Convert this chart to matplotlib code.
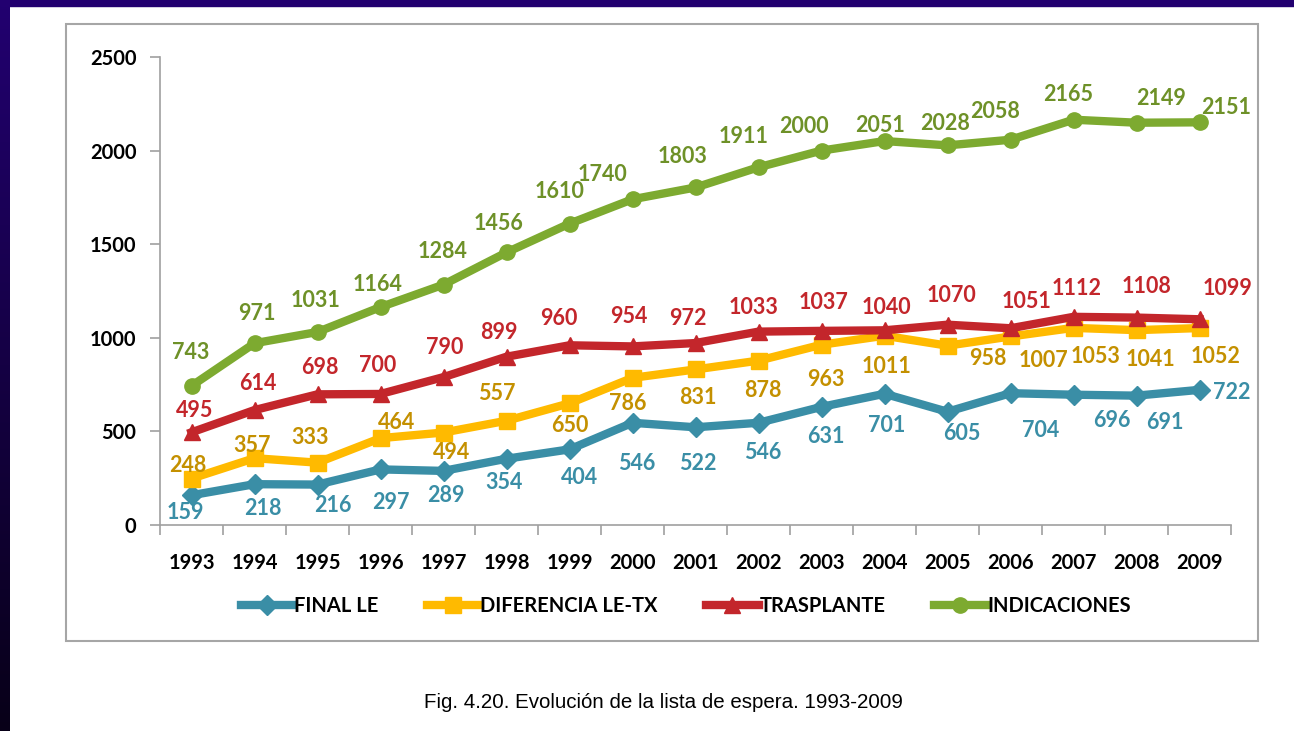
import numpy as np
import matplotlib
matplotlib.use("Agg")
from matplotlib import pyplot as plt
from matplotlib.patches import Rectangle

# Data
years = [str(y) for y in range(1993, 2010)]
final_le = [159, 218, 216, 297, 289, 354, 404, 546, 522, 546, 631, 701, 605, 704, 696, 691, 722]
diferencia = [248, 357, 333, 464, 494, 557, 650, 786, 831, 878, 963, 1011, 958, 1007, 1053, 1041, 1052]
trasplante = [495, 614, 698, 700, 790, 899, 960, 954, 972, 1033, 1037, 1040, 1070, 1051, 1112, 1108, 1099]
indicaciones = [743, 971, 1031, 1164, 1284, 1456, 1610, 1740, 1803, 1911, 2000, 2051, 2028, 2058, 2165, 2149, 2151]
series_names = ["FINAL LE", "DIFERENCIA LE-TX", "TRASPLANTE", "INDICACIONES"]
y_ticks = [0, 500, 1000, 1500, 2000, 2500]
caption = "Fig. 4.20. Evolución de la lista de espera. 1993-2009"

# Label offsets in pixels (dx right, dy down) relative to each point
off_blue = [(-6, 17), (8, 24), (15, 21), (10, 33), (2, 25), (-2, 24), (10, 28), (4, 41), (2, 36),
            (4, 30), (4, 30), (2, 32), (14, 22), (30, 37), (38, 26), (28, 27), (32, 3)]
off_yellow = [(-4, -13), (-2, -13), (-7, -25), (16, -16), (8, 20), (-10, -27), (0, 22), (-5, 26), (2, 28),
              (4, 30), (4, 35), (2, 31), (40, 13), (33, 24), (22, 29), (14, 29), (16, 28)]
off_red = [(3, -22), (3, -27), (2, -27), (-3, -28), (1, -30), (-8, -24), (-11, -27), (-4, -30), (-8, -25),
           (-5, -24), (2, -28), (2, -23), (4, -29), (16, -27), (3, -28), (10, -31), (28, -31)]
off_green = [(-1, -33), (2, -30), (-2, -31), (-3, -23), (-1, -33), (-8, -29), (-10, -32), (-30, -25), (-13, -31),
             (-15, -31), (-18, -24), (-4, -16), (-2, -22), (-15, -28), (-5, -25), (25, -24), (27, -15)]

line_colors = ["#3A8EA6", "#FFBA00", "#C3262B", "#7DAA30"]
label_colors = ["#3A8EA6", "#C49000", "#C3262B", "#6E9128"]
markers = ["D", "s", "^", "o"]
msizes = [10.5, 11, 12, 11]

font = ["Lato", "DejaVu Sans"]

fig = plt.figure(figsize=(12.94, 7.31), dpi=100)
fig.patch.set_facecolor("white")

# slide background strips
grad = fig.add_axes([0, 0, 10 / 1294, 1])
grad.imshow(np.linspace(0, 1, 256).reshape(-1, 1), aspect="auto",
            cmap=matplotlib.colors.LinearSegmentedColormap.from_list("bg", ["#220070", "#080018"]),
            extent=[0, 1, 0, 1])
grad.axis("off")
fig.patches.append(Rectangle((0, 1 - 6 / 731), 1, 6 / 731, transform=fig.transFigure,
                             color="#220070", zorder=0))

# chart frame
fig.patches.append(Rectangle((66 / 1294, 1 - 641 / 731), (1258 - 66) / 1294, (641 - 24) / 731,
                             transform=fig.transFigure, fill=False, edgecolor="#A6A6A6", lw=1.5))

ax = fig.add_axes([160 / 1294, 1 - 525 / 731, (1231 - 160) / 1294, (525 - 57) / 731])
x = np.arange(len(years))
all_series = [final_le, diferencia, trasplante, indicaciones]
all_offsets = [off_blue, off_yellow, off_red, off_green]

for vals, name, lc, tc, mk, ms, offs in zip(all_series, series_names, line_colors, label_colors,
                                           markers, msizes, all_offsets):
    ax.plot(x, vals, color=lc, lw=6, marker=mk, markersize=ms, markeredgecolor=lc,
            markerfacecolor=lc, label=name, solid_joinstyle="round", clip_on=False)
    for xi, v, (dx, dy) in zip(x, vals, offs):
        ax.annotate(str(v), (xi, v), xytext=(dx, -dy), textcoords="offset pixels",
                    ha="center", va="center", color=tc, fontsize=15.5, fontweight="bold",
                    family=font, annotation_clip=False)

ax.set_xlim(-0.5, len(years) - 0.5)
ax.set_ylim(0, 2500)
ax.set_yticks(y_ticks)
ax.set_xticks(x)
ax.set_xticklabels(years)
ax.set_xticks(np.arange(-0.5, len(years)), minor=True)
ax.tick_params(axis="x", which="major", length=0, pad=20)
ax.tick_params(axis="x", which="minor", length=7, color="#A0A0A0", width=1.2)
ax.tick_params(axis="y", length=7, color="#A0A0A0", width=1.2, pad=10)
for lab in ax.get_xticklabels() + ax.get_yticklabels():
    lab.set_family(font)
    lab.set_fontweight("bold")
    lab.set_fontsize(14.5)
for s in ["top", "right"]:
    ax.spines[s].set_visible(False)
for s in ["left", "bottom"]:
    ax.spines[s].set_color("#A0A0A0")
    ax.spines[s].set_linewidth(1.2)

leg = fig.legend(loc="center", bbox_to_anchor=(686 / 1294, 1 - 606 / 731), ncol=4, frameon=False,
                 handlelength=2.6, handletextpad=0.05, columnspacing=2.4,
                 prop={"family": font, "weight": "bold", "size": 14.5})

fig.text(663 / 1294, 1 - 703 / 731, caption, ha="center", va="center", fontsize=14.8,
         family=["Liberation Sans", "DejaVu Sans"], color="black")

fig.savefig("out.png", dpi=100)
